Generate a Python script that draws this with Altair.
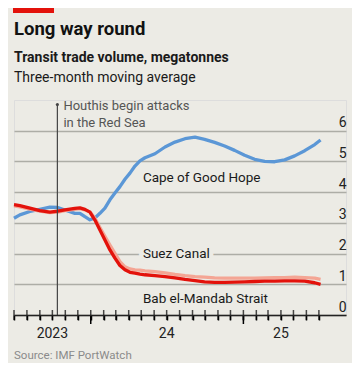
import altair as alt
import pandas as pd

dates = [
    "2023-07-01", "2023-07-15", "2023-08-08", "2023-09-01", "2023-09-25",
    "2023-10-14", "2023-10-31", "2023-11-24", "2023-12-06", "2023-12-18",
    "2023-12-30", "2024-01-11", "2024-01-23", "2024-02-04", "2024-02-16",
    "2024-02-28", "2024-03-11", "2024-03-23", "2024-04-04", "2024-04-16",
    "2024-04-28", "2024-05-10", "2024-06-03", "2024-06-27", "2024-07-21",
    "2024-08-14", "2024-09-07", "2024-09-30", "2024-10-24", "2024-11-17",
    "2024-12-11", "2025-01-04", "2025-01-28", "2025-02-21", "2025-03-17",
    "2025-04-10", "2025-05-04", "2025-05-28", "2025-06-21", "2025-07-05",
]
cape_good_hope = [
    3.15, 3.26, 3.37, 3.44, 3.51, 3.50, 3.42, 3.31, 3.31, 3.20,
    3.10, 3.16, 3.31, 3.48, 3.75, 3.97, 4.18, 4.42, 4.62, 4.85,
    5.02, 5.12, 5.25, 5.47, 5.63, 5.74, 5.79, 5.72, 5.62, 5.50,
    5.36, 5.20, 5.07, 5.00, 4.99, 5.05, 5.18, 5.35, 5.55, 5.70,
]
suez_canal = [
    3.55, 3.52, 3.45, 3.38, 3.33, 3.35, 3.40, 3.44, 3.46, 3.42,
    3.36, 3.15, 2.85, 2.56, 2.28, 2.01, 1.74, 1.57, 1.50, 1.47,
    1.46, 1.44, 1.41, 1.37, 1.32, 1.28, 1.25, 1.23, 1.21, 1.20,
    1.20, 1.20, 1.20, 1.21, 1.22, 1.22, 1.23, 1.22, 1.20, 1.16,
]
bab_el_mandab = [
    3.59, 3.56, 3.48, 3.40, 3.35, 3.38, 3.42, 3.47, 3.49, 3.44,
    3.35, 3.09, 2.77, 2.44, 2.12, 1.85, 1.61, 1.47, 1.39, 1.36,
    1.33, 1.31, 1.28, 1.25, 1.21, 1.16, 1.12, 1.08, 1.06, 1.06,
    1.07, 1.08, 1.09, 1.10, 1.10, 1.11, 1.11, 1.10, 1.05, 1.00,
]

series_names = ["Cape of Good Hope", "Suez Canal", "Bab el-Mandab Strait"]
series_colors = ["#5b97d6", "#f4a594", "#e3120b"]
label_dates = ["2024-05-05", "2024-05-05", "2024-05-05"]
label_values = [4.32, 1.84, 0.375]

y_ticks = [0, 1, 2, 3, 4, 5, 6]
year_labels = ["2023", "24", "25"]
year_label_dates = ["2023-10-01", "2024-07-01", "2025-04-01"]
event_dates = ["2023-10-13"]
event_text = ["Houthis begin attacks", "in the Red Sea"]

title = "Long way round"
subtitle = "Transit trade volume, megatonnes"
subtitle2 = "Three-month moving average"
source = "Source: IMF PortWatch"

long_rows = []
for name, vals in zip(series_names, [cape_good_hope, suez_canal, bab_el_mandab]):
    for d, v in zip(dates, vals):
        long_rows.append({"date": pd.Timestamp(d), "route": name, "value": v})
df = pd.DataFrame(long_rows)

labels_df = pd.DataFrame({
    "date": pd.to_datetime(label_dates),
    "value": label_values,
    "route": series_names,
})
months = pd.date_range("2023-07-01", "2025-07-01", freq="MS")
month_dt = [alt.DateTime(year=int(m.year), month=int(m.month), date=1) for m in months]
minor_df = pd.DataFrame({"date": months})
major_df = pd.DataFrame({"date": [m for m in months if m.month == 1]})
years_df = pd.DataFrame({"date": pd.to_datetime(year_label_dates), "lab": year_labels})
event_df = pd.DataFrame({"date": pd.to_datetime(event_dates)})
one = pd.DataFrame({"k": [0]})

W, H = 332, 215
BG = "#ecebe5"
FONT = "Roboto"
INK = "#222222"

xscale = alt.Scale(domain=[alt.DateTime(year=2023, month=7, date=1),
                           alt.DateTime(year=2025, month=9, date=4)])
yscale = alt.Scale(domain=[0, 7], nice=False)

x_axis = alt.Axis(values=month_dt, labels=False, ticks=True, tickSize=5,
                  tickColor="#000000", tickWidth=1.5, grid=False,
                  domainColor=INK, domainWidth=1.4, zindex=1)
y_axis = alt.Axis(orient="right", values=y_ticks, grid=True,
                  gridColor="#adada6", gridWidth=1.4, domain=False,
                  ticks=False, tickSize=0, labelAlign="right",
                  labelBaseline="alphabetic", labelOffset=-4,
                  labelPadding=0, labelFontSize=14, labelColor=INK,
                  labelFont=FONT, labelOverlap=False, labelBound=False)

def X():
    return alt.X("date:T", scale=xscale, title=None, axis=x_axis)

def Y():
    return alt.Y("value:Q", scale=yscale, title=None, axis=y_axis)

def line(i):
    return alt.Chart(df).transform_filter(
        alt.datum.route == series_names[i]
    ).mark_line(color=series_colors[i], strokeWidth=3.3, strokeJoin="round").encode(
        x=X(), y=Y()
    )

lines = [line(0), line(1), line(2)]

minor_ticks = alt.Chart(minor_df).mark_tick(
    color="#000000", thickness=1.5, size=10, orient="vertical"
).encode(x=X(), y=alt.value(H))
major_ticks = alt.Chart(major_df).mark_rule(color="#000000", strokeWidth=1.5).encode(
    x=X(), y=alt.value(H), y2=alt.value(H + 9))
year_text = alt.Chart(years_df).mark_text(
    font=FONT, fontSize=14, color=INK, align="center", baseline="alphabetic"
).encode(x=X(), y=alt.value(H + 23), text="lab:N")

event_rule = alt.Chart(event_df).mark_rule(color="#444444", strokeWidth=1.2).encode(
    x=X(), y=alt.value(4.5), y2=alt.value(H))
event_dot = alt.Chart(event_df).mark_circle(color="#444444", size=10, opacity=1).encode(
    x=X(), y=alt.value(4.5))
event_label = alt.Chart(event_df).mark_text(
    font=FONT, fontSize=13, color="#555555", align="left", baseline="alphabetic",
    dx=6, lineHeight=17
).encode(x=X(), y=alt.value(10), text=alt.value(event_text))

halo = alt.Chart(labels_df).transform_filter(
    alt.datum.route == "Suez Canal"
).mark_text(font=FONT, fontSize=13.5, align="left", baseline="alphabetic",
            color=BG, stroke=BG, strokeWidth=9).encode(
    x=X(), y=Y(), text="route:N")
series_text = alt.Chart(labels_df).mark_text(
    font=FONT, fontSize=13.5, align="left", baseline="alphabetic", color="#1a1a1a"
).encode(x=X(), y=Y(), text="route:N")

red_bar = alt.Chart(one).mark_rect(color="#e3120b").encode(
    x=alt.value(-1), x2=alt.value(40), y=alt.value(-92), y2=alt.value(-87))
t1 = alt.Chart(one).mark_text(font=FONT, fontSize=18.5, fontWeight="bold", color="#121212",
                              align="left", baseline="alphabetic").encode(
    x=alt.value(0), y=alt.value(-65.5), text=alt.value(title))
t2 = alt.Chart(one).mark_text(font=FONT, fontSize=14, fontWeight="bold", color="#1a1a1a",
                              align="left", baseline="alphabetic").encode(
    x=alt.value(0), y=alt.value(-37.7), text=alt.value(subtitle))
t3 = alt.Chart(one).mark_text(font=FONT, fontSize=14, color="#1a1a1a",
                              align="left", baseline="alphabetic").encode(
    x=alt.value(0), y=alt.value(-18.3), text=alt.value(subtitle2))
t4 = alt.Chart(one).mark_text(font=FONT, fontSize=11.5, color="#8a8a8a",
                              align="left", baseline="alphabetic").encode(
    x=alt.value(0), y=alt.value(H + 44), text=alt.value(source))

chart = alt.layer(
    lines[0], lines[1], lines[2],
    halo, series_text,
    event_rule, event_dot, event_label,
    minor_ticks, major_ticks, year_text,
    red_bar, t1, t2, t3, t4,
).properties(
    width=W, height=H,
    padding={"left": 6, "top": 92, "right": 6, "bottom": 48},
    autosize=alt.AutoSizeParams(type="none"),
    background=BG,
).configure_view(stroke=None).configure(font=FONT)

chart.save("out.html", embed_options={"renderer": "svg", "actions": False})
